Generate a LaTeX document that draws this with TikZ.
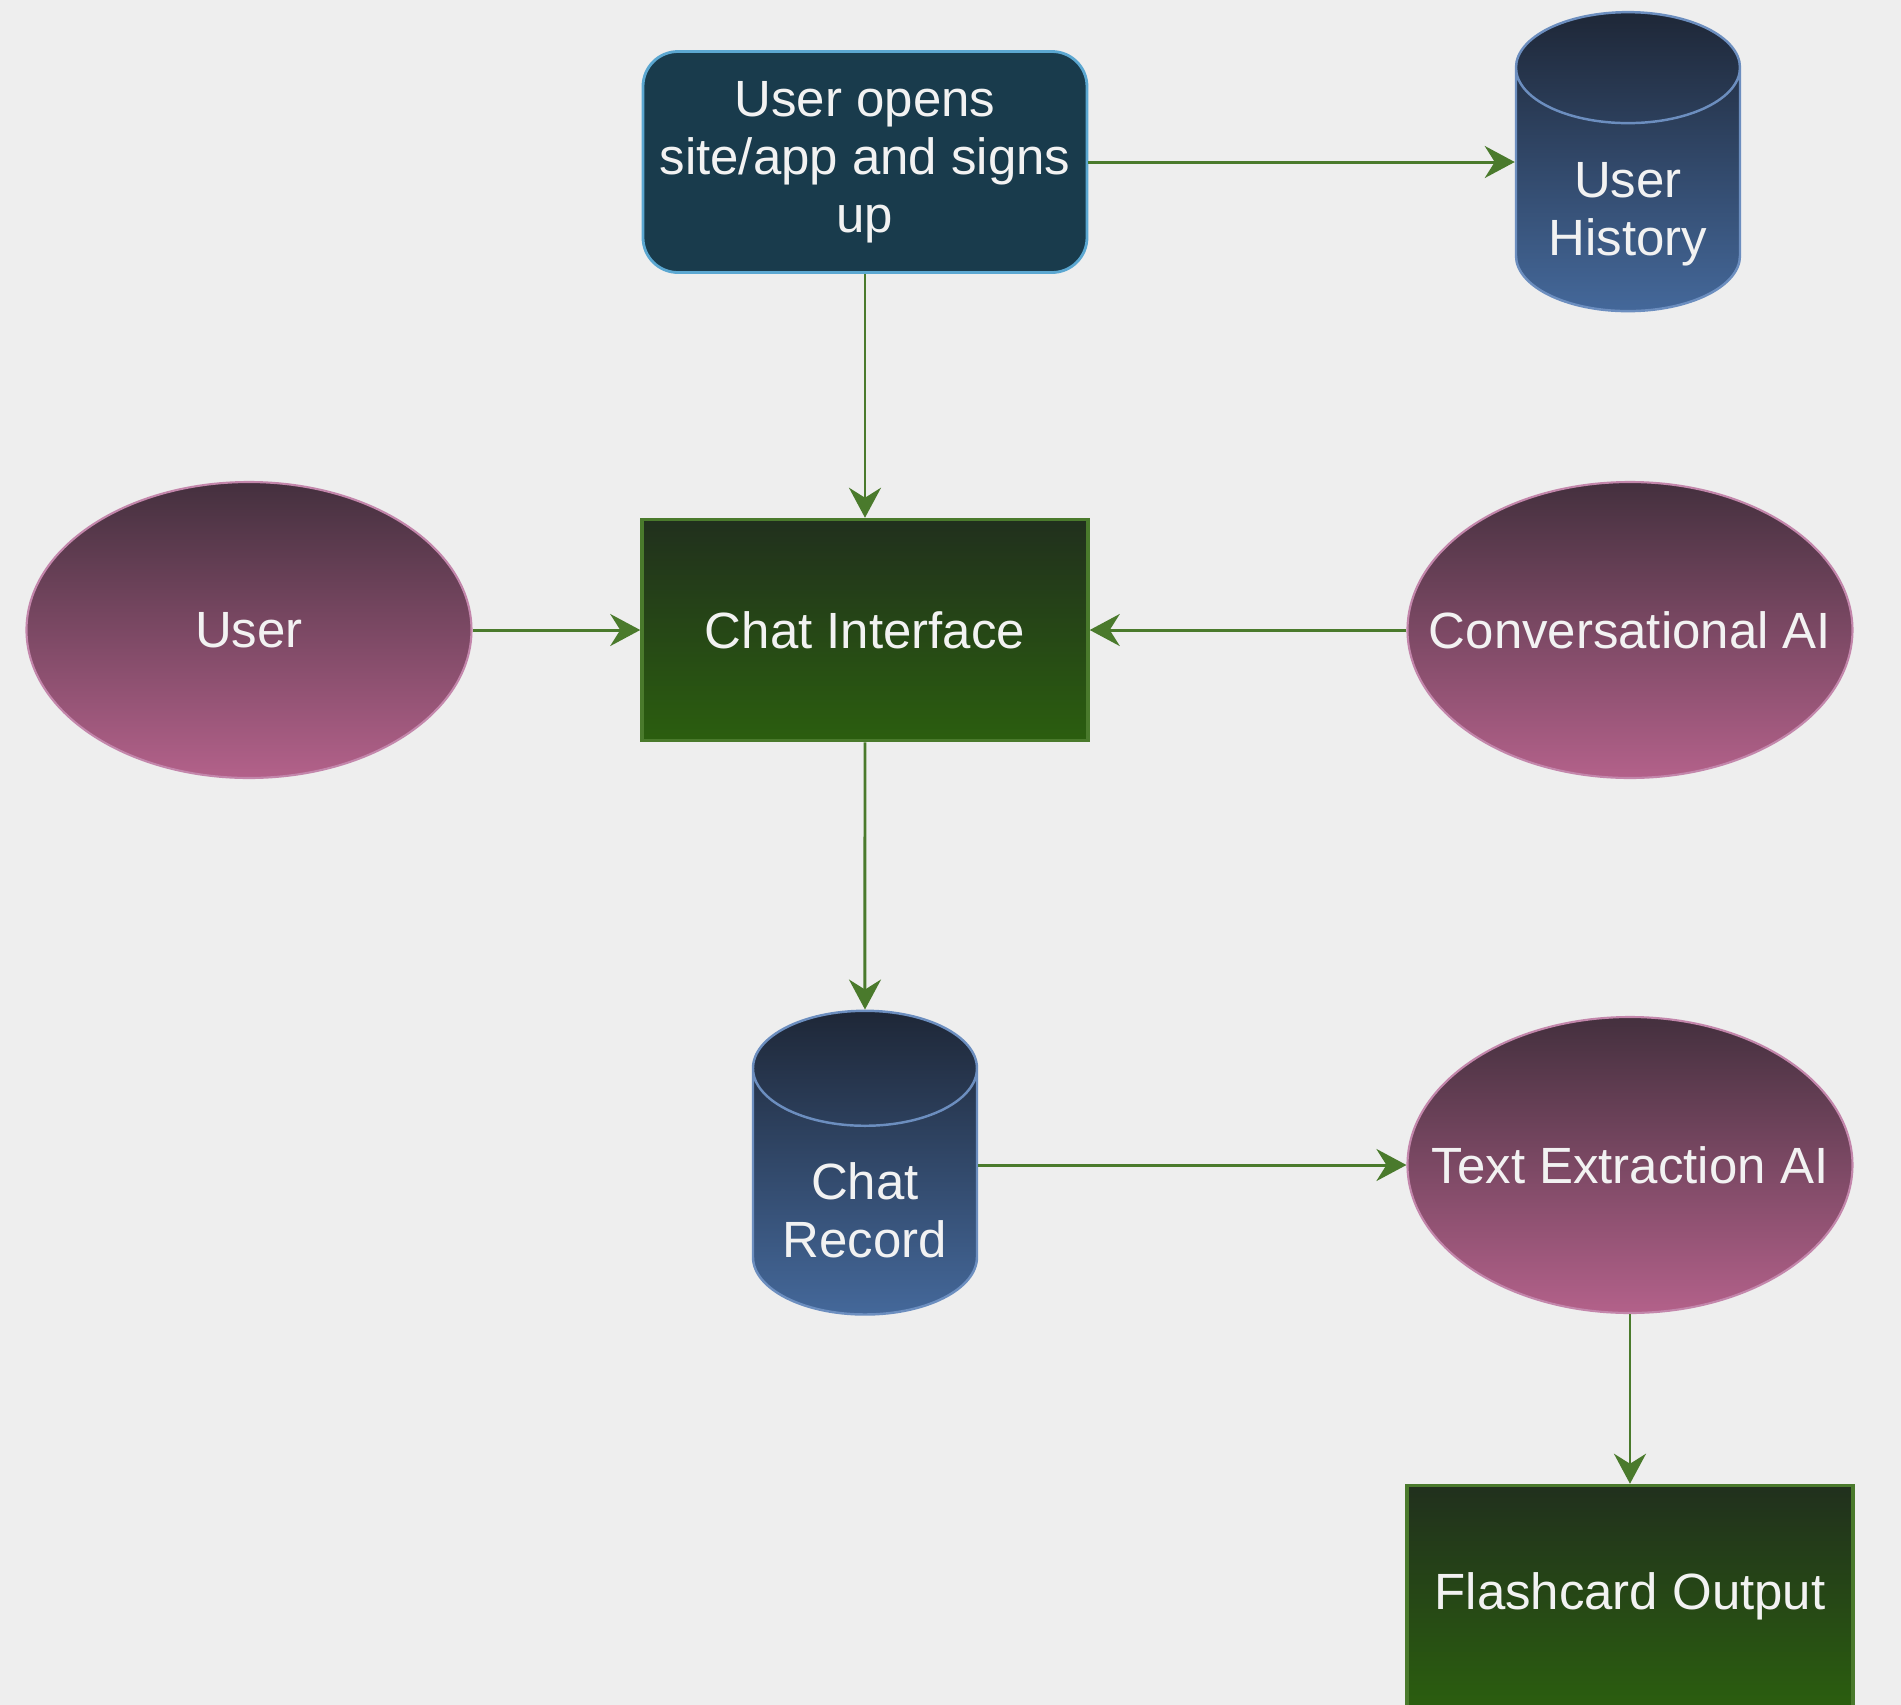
\documentclass[tikz,border=0pt]{standalone}
\usepackage{fontspec}
\setmainfont{Liberation Sans}
\usetikzlibrary{shapes,arrows.meta,positioning}

\definecolor{pagebg}{HTML}{EEEEEE}
\definecolor{flowgreen}{HTML}{4A7A2C}
\definecolor{labeltext}{HTML}{F2F2F2}
\definecolor{startfill}{HTML}{193B4C}
\definecolor{startline}{HTML}{5BA7D1}
\definecolor{agenttop}{HTML}{44303E}
\definecolor{agentbot}{HTML}{B3618A}
\definecolor{agentline}{HTML}{C386AB}
\definecolor{dbtop}{HTML}{1E2737}
\definecolor{dbbot}{HTML}{44689A}
\definecolor{dbline}{HTML}{6C8EBF}
\definecolor{blocktop}{HTML}{21301D}
\definecolor{blockbot}{HTML}{2B5E0F}

\tikzstyle{line} = [draw, flowgreen, line width=0.85pt, -{Stealth[length=3mm, width=3.2mm, inset=1mm]}]
\tikzstyle{label} = [text=labeltext, align=center, font=\fontsize{14.5}{16.5}\selectfont]
\tikzstyle{block} = [label, draw=flowgreen, line width=1pt, rectangle, top color=blocktop, bottom color=blockbot, minimum width=4.46cm, minimum height=2.21cm]
\tikzstyle{cloud} = [label, draw=startline, line width=0.8pt, rectangle, rounded corners=0.35cm, fill=startfill, minimum width=4.44cm, minimum height=2.21cm]
\tikzstyle{agent} = [label, draw=agentline, line width=0.6pt, ellipse, inner sep=0pt, top color=agenttop, bottom color=agentbot, minimum width=4.45cm, minimum height=2.96cm]
% fixed text box keeps the body length and puts the label low in the body
\tikzstyle{db} = [label, draw=dbline, line width=0.7pt, cylinder, shape border rotate=90, aspect=0.7, inner sep=0pt, text height=1.3cm, text depth=0cm, top color=dbtop, bottom color=dbbot, minimum width=2.24cm, minimum height=2.99cm]

\begin{document}
\begin{tikzpicture}[node distance=4.68cm, auto]
        \path[use as bounding box, fill=pagebg] (-8.65,1.62) rectangle (10.36,-15.43);
        \node[cloud] (signup) {User opens\\site/app and signs\\up};
        \node[db, right of=signup, node distance=7.63cm, yshift=-0.28cm] (history) {User\\History};
        \node[block, below of=signup] (chat) {Chat Interface};
        \node[agent, left of=chat, node distance=6.16cm] (user) {User};
        \node[agent, right of=chat, node distance=7.65cm] (convai) {\makebox[0pt]{Conversational AI}};
        \node[db, below of=chat, node distance=5.62cm] (record) {Chat\\Record};
        \node[agent, below of=convai, node distance=5.35cm] (extract) {\makebox[0pt]{Text Extraction AI}};
        \node[block, below of=extract, node distance=4.31cm] (flash) {Flashcard Output};
        \path[line] (signup.east) -- (signup.east -| history.west);
        \path[line] (signup) -- (chat);
        \path[line] (user) -- (chat);
        \path[line] (convai) -- (chat);
        \path[line] (chat) -- (record);
        \path[line] (record.east |- extract.west) -- (extract.west);
        \path[line] (extract) -- (flash);
    \end{tikzpicture}
\end{document}
